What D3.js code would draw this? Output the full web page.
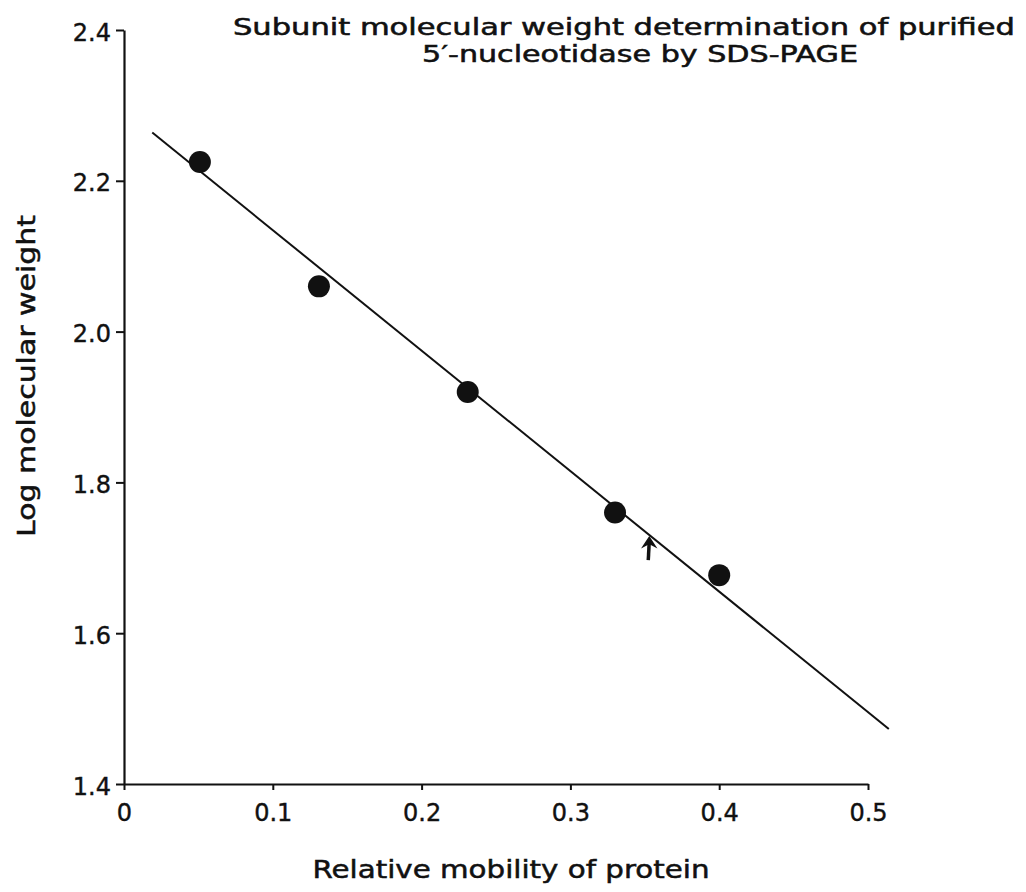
<!DOCTYPE html>
<html>
<head>
<meta charset="utf-8">
<script src="https://cdn.jsdelivr.net/npm/d3@7"></script>
<style>
  body { margin: 0; background: #fff; }
  .tick text { font-family: "DejaVu Sans", sans-serif; fill: #111; stroke: #111; stroke-width: 0.4px; }
  .lbl { fill: #111; stroke: #111; stroke-width: 0.5px; }
</style>
</head>
<body>
<div id="chart"></div>
<script>
// standards: relative mobility vs log MW
var mobility = [0.051, 0.131, 0.231, 0.330, 0.400];
var logMW = [2.225, 2.060, 1.920, 1.760, 1.677];

// fitted line end points
var fitX = [0.019, 0.514];
var fitY = [2.264, 1.473];

// arrow marking the purified enzyme band
var arrowX = [0.353, 0.353];
var arrowY = [1.697, 1.727];

var xTicks = [0, 0.1, 0.2, 0.3, 0.4, 0.5];
var yTicks = [1.4, 1.6, 1.8, 2.0, 2.2, 2.4];

var titleLines = ["Subunit molecular weight determination of purified", "5\u2032-nucleotidase by SDS-PAGE"];
var xLabel = "Relative mobility of protein";
var yLabel = "Log molecular weight";

var width = 1026, height = 892;
var margin = {top: 30, left: 124, right: 158, bottom: 108};

var svg = d3.select("#chart")
    .append("svg")
    .attr("width", width)
    .attr("height", height);

var x = d3.scaleLinear()
    .domain([0, 0.5])
    .range([margin.left, width - margin.right]);

var y = d3.scaleLinear()
    .domain([1.4, 2.4])
    .range([height - margin.bottom, margin.top]);

// axes
var xAxis = d3.axisBottom(x)
    .tickValues(xTicks)
    .tickSize(6)
    .tickSizeOuter(0)
    .tickPadding(14)
    .tickFormat(d => d === 0 ? "0" : d3.format(".1f")(d));

var yAxis = d3.axisLeft(y)
    .tickValues(yTicks)
    .tickSize(8)
    .tickSizeOuter(0)
    .tickPadding(5)
    .tickFormat(d3.format(".1f"));

var gx = svg.append("g")
    .attr("transform", "translate(0," + y(1.4) + ")")
    .call(xAxis);
gx.selectAll("text").style("font-size", "24px");

var gy = svg.append("g")
    .attr("transform", "translate(" + x(0) + ",0)")
    .call(yAxis);
gy.selectAll("text").style("font-size", "24px").attr("dy", "0.42em");

svg.selectAll(".domain").attr("stroke", "#111").attr("stroke-width", 2.2);
svg.selectAll(".tick line").attr("stroke", "#111").attr("stroke-width", 2);

// fitted line
svg.append("line")
    .attr("x1", x(fitX[0]))
    .attr("y1", y(fitY[0]))
    .attr("x2", x(fitX[1]))
    .attr("y2", y(fitY[1]))
    .attr("stroke", "#111")
    .attr("stroke-width", 2);

// points
svg.selectAll(".pt")
    .data(mobility)
    .enter().append("circle")
    .attr("class", "pt")
    .attr("cx", d => x(d))
    .attr("cy", (d, i) => y(logMW[i]))
    .attr("r", 11)
    .attr("fill", "#111");

// arrow
var ax = x(arrowX[0]), ay0 = y(arrowY[0]), ay1 = y(arrowY[1]);
svg.append("line")
    .attr("x1", ax - 1).attr("y1", ay0)
    .attr("x2", ax).attr("y2", ay1 + 4)
    .attr("stroke", "#111")
    .attr("stroke-width", 3.5);
svg.append("path")
    .attr("d", "M" + (ax - 6) + "," + (ay1 + 9) + "L" + ax + "," + ay1 + "L" + (ax + 6) + "," + (ay1 + 9) + "L" + ax + "," + (ay1 + 6) + "Z")
    .attr("fill", "#111")
    .attr("stroke", "#111")
    .attr("stroke-width", 1.5);

// title
var titleFont = "'DejaVu Sans Condensed', 'DejaVu Sans', sans-serif";
svg.append("text")
    .attr("class", "lbl")
    .attr("x", 624)
    .attr("y", 35)
    .attr("text-anchor", "middle")
    .attr("textLength", 782)
    .attr("lengthAdjust", "spacingAndGlyphs")
    .style("font-family", titleFont)
    .style("font-size", "23px")
    .text(titleLines[0]);
svg.append("text")
    .attr("class", "lbl")
    .attr("x", 640)
    .attr("y", 62)
    .attr("text-anchor", "middle")
    .attr("textLength", 436)
    .attr("lengthAdjust", "spacingAndGlyphs")
    .style("font-family", titleFont)
    .style("font-size", "23px")
    .text(titleLines[1]);

// axis labels
svg.append("text")
    .attr("class", "lbl")
    .attr("x", 511)
    .attr("y", 878)
    .attr("text-anchor", "middle")
    .attr("textLength", 397)
    .attr("lengthAdjust", "spacingAndGlyphs")
    .style("font-family", "'DejaVu Sans', sans-serif")
    .style("font-size", "24px")
    .text(xLabel);

svg.append("text")
    .attr("class", "lbl")
    .attr("transform", "translate(35,376) rotate(-90)")
    .attr("text-anchor", "middle")
    .attr("textLength", 322)
    .attr("lengthAdjust", "spacingAndGlyphs")
    .style("font-family", "'DejaVu Sans', sans-serif")
    .style("font-size", "24px")
    .text(yLabel);
</script>
</body>
</html>
